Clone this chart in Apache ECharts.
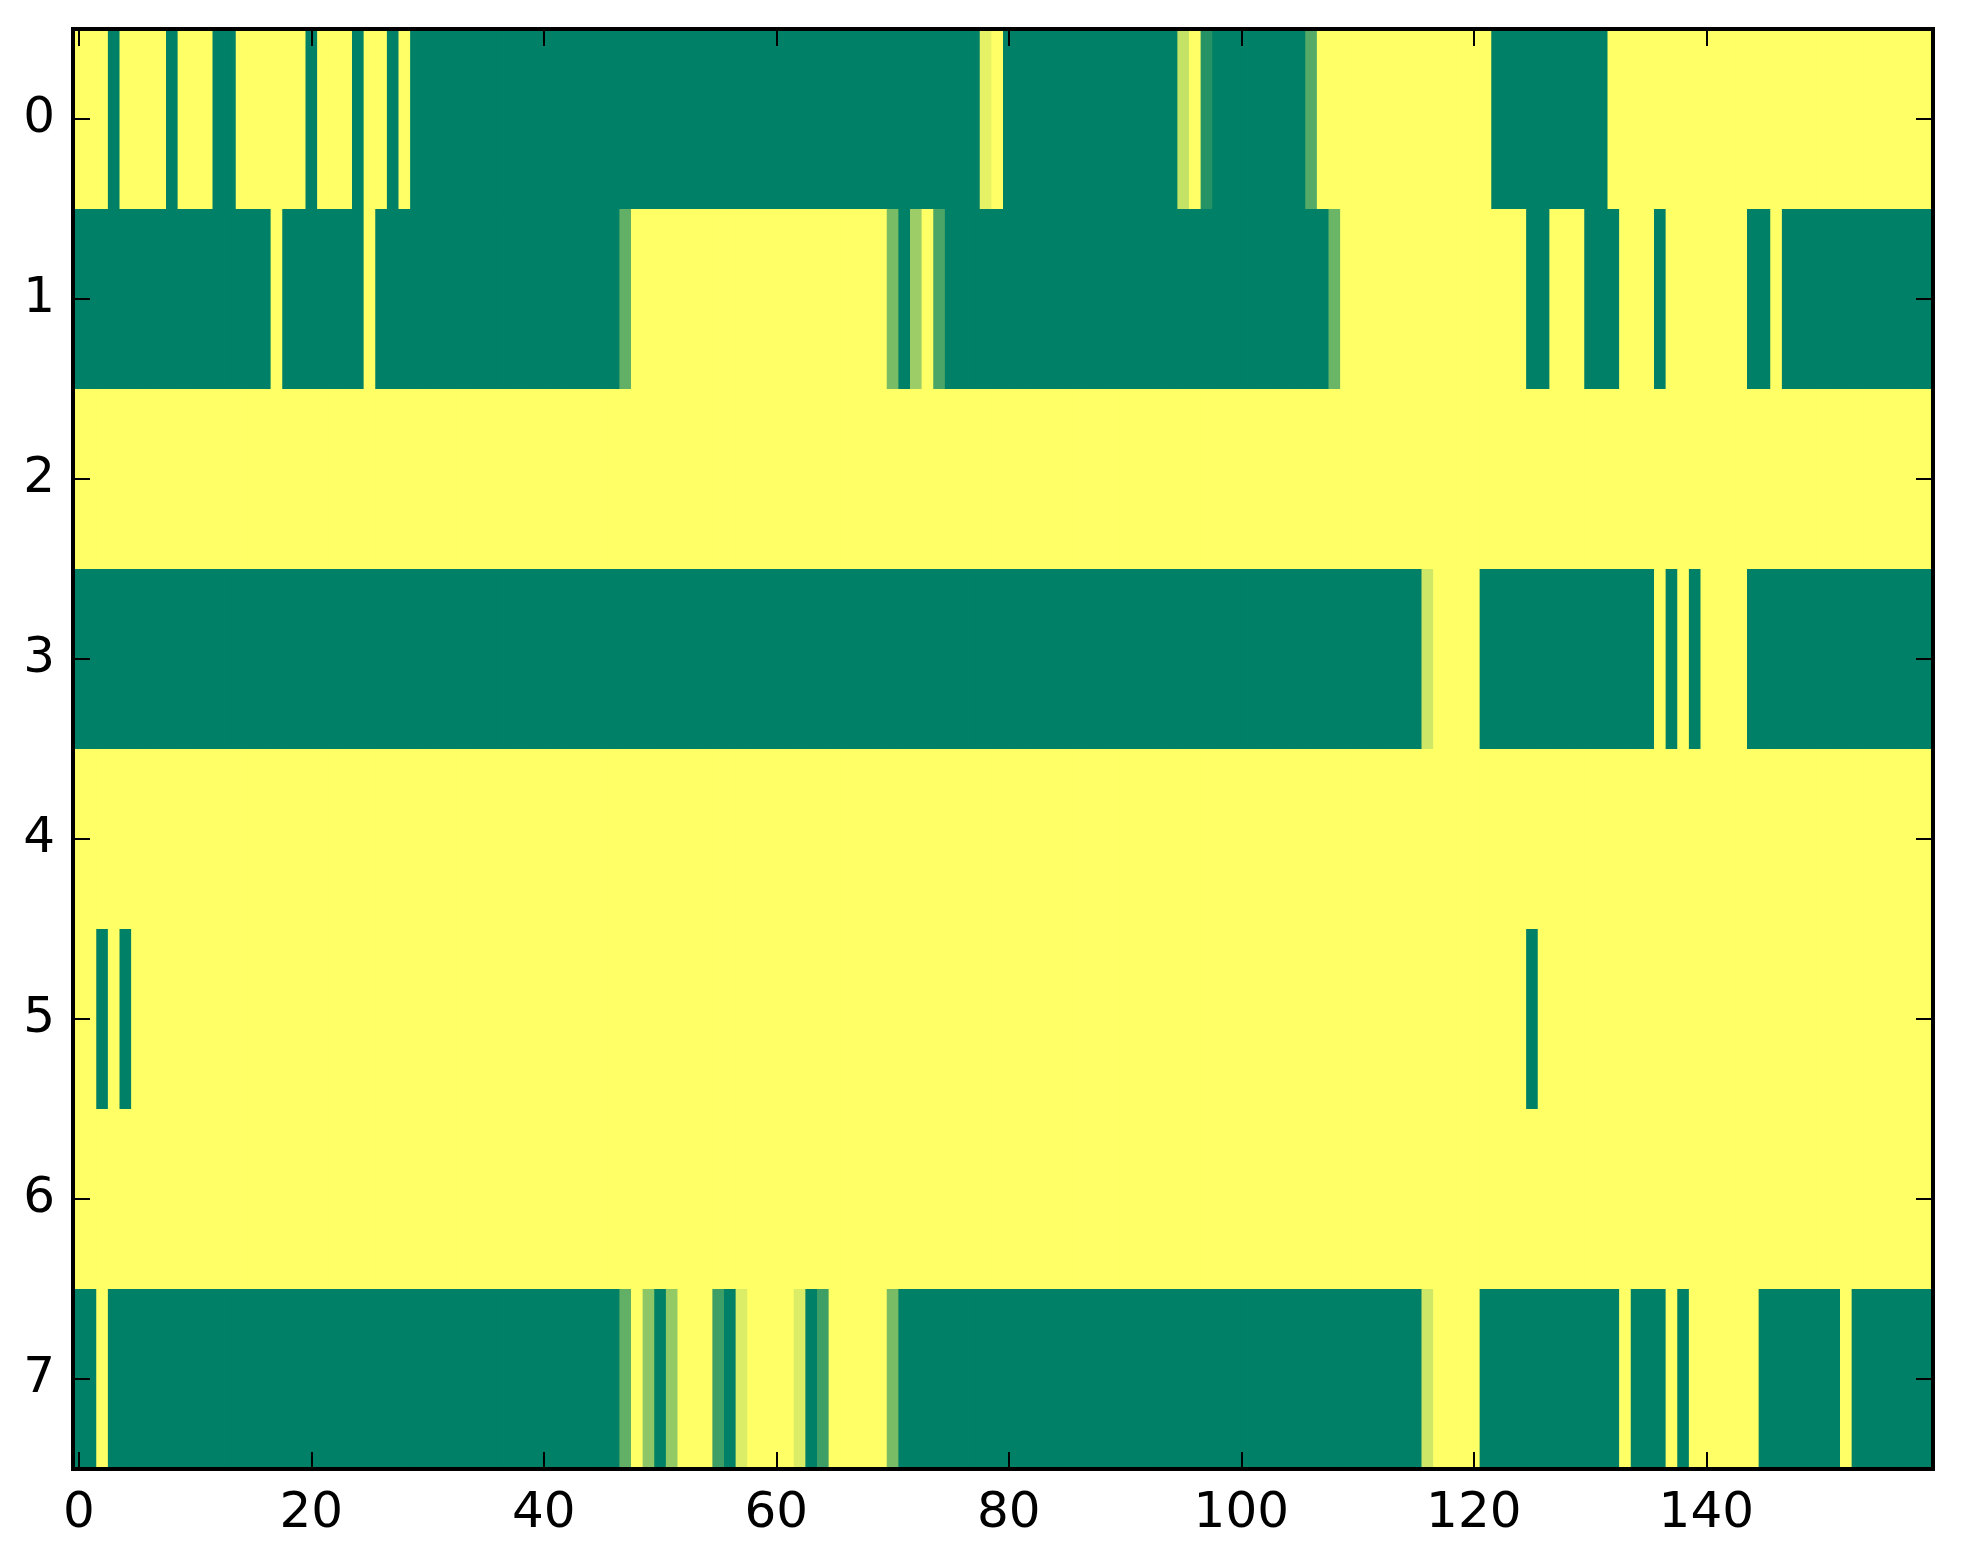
<!DOCTYPE html>
<html>
<head>
<meta charset="utf-8">
<script src="https://cdn.jsdelivr.net/npm/echarts@6/dist/echarts.min.js"></script>
<style>
html,body{margin:0;padding:0;background:#fff;}
#chart{width:1963px;height:1564px;}
</style>
</head>
<body>
<div id="chart"></div>
<script>
// Column indices 0..159 and row labels 0..7
const columns = Array.from({length: 160}, (_, i) => String(i));
const rows = ['0', '1', '2', '3', '4', '5', '6', '7'];

// Values per row (0 = green, 1 = yellow), read column by column
const row0 = [1,1,1,0,1,1,1,1,0,1, 1,1,0,0,1,1,1,1,1,1, 0,1,1,1,0,1,1,0,1,0,
  0,0,0,0,0,0,0,0,0,0, 0,0,0,0,0,0,0,0,0,0, 0,0,0,0,0,0,0,0,0,0,
  0,0,0,0,0,0,0,0,0,0, 0,0,0,0,0,0,0,0,0.9,1, 0,0,0,0,0,0,0,0,0,0,
  0,0,0,0,0,0.77,1,0.15,0,0, 0,0,0,0,0,0,0.33,1,1,1, 1,1,1,1,1,1,1,1,1,1,
  1,1,0,0,0,0,0,0,0,0, 0,0,1,1,1,1,1,1,1,1, 1,1,1,1,1,1,1,1,1,1,
  1,1,1,1,1,1,1,1,1,1];
const row1 = [0,0,0,0,0,0,0,0,0,0, 0,0,0,0,0,0,0,1,0,0, 0,0,0,0,0,1,0,0,0,0,
  0,0,0,0,0,0,0,0,0,0, 0,0,0,0,0,0,0,0.38,1,1, 1,1,1,1,1,1,1,1,1,1,
  1,1,1,1,1,1,1,1,1,1, 0.47,0,0.61,1,0.29,0,0,0,0,0, 0,0,0,0,0,0,0,0,0,0,
  0,0,0,0,0,0,0,0,0,0, 0,0,0,0,0,0,0,0,0.42,1, 1,1,1,1,1,1,1,1,1,1,
  1,1,1,1,1,0,0,1,1,1, 0,0,0,1,1,1,0,1,1,1, 1,1,1,1,0,0,1,0,0,0,
  0,0,0,0,0,0,0,0,0,0];
const row2 = [1,1,1,1,1,1,1,1,1,1, 1,1,1,1,1,1,1,1,1,1, 1,1,1,1,1,1,1,1,1,1,
  1,1,1,1,1,1,1,1,1,1, 1,1,1,1,1,1,1,1,1,1, 1,1,1,1,1,1,1,1,1,1,
  1,1,1,1,1,1,1,1,1,1, 1,1,1,1,1,1,1,1,1,1, 1,1,1,1,1,1,1,1,1,1,
  1,1,1,1,1,1,1,1,1,1, 1,1,1,1,1,1,1,1,1,1, 1,1,1,1,1,1,1,1,1,1,
  1,1,1,1,1,1,1,1,1,1, 1,1,1,1,1,1,1,1,1,1, 1,1,1,1,1,1,1,1,1,1,
  1,1,1,1,1,1,1,1,1,1];
const row3 = [0,0,0,0,0,0,0,0,0,0, 0,0,0,0,0,0,0,0,0,0, 0,0,0,0,0,0,0,0,0,0,
  0,0,0,0,0,0,0,0,0,0, 0,0,0,0,0,0,0,0,0,0, 0,0,0,0,0,0,0,0,0,0,
  0,0,0,0,0,0,0,0,0,0, 0,0,0,0,0,0,0,0,0,0, 0,0,0,0,0,0,0,0,0,0,
  0,0,0,0,0,0,0,0,0,0, 0,0,0,0,0,0,0,0,0,0, 0,0,0,0,0,0,0.81,1,1,1,
  1,0,0,0,0,0,0,0,0,0, 0,0,0,0,0,0,1,0,1,0, 1,1,1,1,0,0,0,0,0,0,
  0,0,0,0,0,0,0,0,0,0];
const row4 = [1,1,1,1,1,1,1,1,1,1, 1,1,1,1,1,1,1,1,1,1, 1,1,1,1,1,1,1,1,1,1,
  1,1,1,1,1,1,1,1,1,1, 1,1,1,1,1,1,1,1,1,1, 1,1,1,1,1,1,1,1,1,1,
  1,1,1,1,1,1,1,1,1,1, 1,1,1,1,1,1,1,1,1,1, 1,1,1,1,1,1,1,1,1,1,
  1,1,1,1,1,1,1,1,1,1, 1,1,1,1,1,1,1,1,1,1, 1,1,1,1,1,1,1,1,1,1,
  1,1,1,1,1,1,1,1,1,1, 1,1,1,1,1,1,1,1,1,1, 1,1,1,1,1,1,1,1,1,1,
  1,1,1,1,1,1,1,1,1,1];
const row5 = [1,1,0,1,0,1,1,1,1,1, 1,1,1,1,1,1,1,1,1,1, 1,1,1,1,1,1,1,1,1,1,
  1,1,1,1,1,1,1,1,1,1, 1,1,1,1,1,1,1,1,1,1, 1,1,1,1,1,1,1,1,1,1,
  1,1,1,1,1,1,1,1,1,1, 1,1,1,1,1,1,1,1,1,1, 1,1,1,1,1,1,1,1,1,1,
  1,1,1,1,1,1,1,1,1,1, 1,1,1,1,1,1,1,1,1,1, 1,1,1,1,1,1,1,1,1,1,
  1,1,1,1,1,0,1,1,1,1, 1,1,1,1,1,1,1,1,1,1, 1,1,1,1,1,1,1,1,1,1,
  1,1,1,1,1,1,1,1,1,1];
const row6 = [1,1,1,1,1,1,1,1,1,1, 1,1,1,1,1,1,1,1,1,1, 1,1,1,1,1,1,1,1,1,1,
  1,1,1,1,1,1,1,1,1,1, 1,1,1,1,1,1,1,1,1,1, 1,1,1,1,1,1,1,1,1,1,
  1,1,1,1,1,1,1,1,1,1, 1,1,1,1,1,1,1,1,1,1, 1,1,1,1,1,1,1,1,1,1,
  1,1,1,1,1,1,1,1,1,1, 1,1,1,1,1,1,1,1,1,1, 1,1,1,1,1,1,1,1,1,1,
  1,1,1,1,1,1,1,1,1,1, 1,1,1,1,1,1,1,1,1,1, 1,1,1,1,1,1,1,1,1,1,
  1,1,1,1,1,1,1,1,1,1];
const row7 = [0,0,1,0,0,0,0,0,0,0, 0,0,0,0,0,0,0,0,0,0, 0,0,0,0,0,0,0,0,0,0,
  0,0,0,0,0,0,0,0,0,0, 0,0,0,0,0,0,0,0.38,1,0.55, 0,0.58,1,1,1,0.24,0,0.86,1,1,
  1,1,0.86,0,0.24,1,1,1,1,1, 0.47,0,0,0,0,0,0,0,0,0, 0,0,0,0,0,0,0,0,0,0,
  0,0,0,0,0,0,0,0,0,0, 0,0,0,0,0,0,0,0,0,0, 0,0,0,0,0,0,0.81,1,1,1,
  1,0,0,0,0,0,0,0,0,0, 0,0,0,1,0,0,0,1,0,1, 1,1,1,1,1,0,0,0,0,0,
  0,0,1,0,0,0,0,0,0,0];
const matrix = [row0, row1, row2, row3, row4, row5, row6, row7];

const cells = [];
matrix.forEach((r, yi) => r.forEach((v, xi) => cells.push([xi, yi, v])));

const font = 'DejaVu Sans';
const lineStyle = {color: '#000', width: 4, cap: 'square'};
const tickStyle = {color: '#000', width: 2};

function xAx(pos, showLabel) {
  return {
    type: 'category', data: columns, position: pos, z: 10,
    axisLine: {show: true, onZero: false, lineStyle: lineStyle},
    axisTick: {show: true, inside: true, length: 17, interval: 19, alignWithLabel: true, lineStyle: tickStyle},
    axisLabel: {show: showLabel, interval: 19, fontSize: 50, fontFamily: font, color: '#000', margin: 20},
    splitLine: {show: false}
  };
}
function yAx(pos, showLabel) {
  return {
    type: 'category', data: rows, position: pos, inverse: true, z: 10,
    axisLine: {show: true, onZero: false, lineStyle: lineStyle},
    axisTick: {show: true, inside: true, length: 17, interval: 0, alignWithLabel: true, lineStyle: tickStyle},
    axisLabel: {show: showLabel, fontSize: 50, fontFamily: font, color: '#000', margin: 18},
    splitLine: {show: false}
  };
}

const chart = echarts.init(document.getElementById('chart'), null, {renderer: 'canvas'});
chart.setOption({
  animation: false,
  backgroundColor: '#fff',
  grid: {left: 73, top: 29, right: 30, bottom: 95, containLabel: false},
  xAxis: [xAx('bottom', true), xAx('top', false)],
  yAxis: [yAx('left', true), yAx('right', false)],
  visualMap: {
    show: false, type: 'continuous', min: 0, max: 1, dimension: 2, seriesIndex: 0,
    inRange: {color: ['#008066', '#ffff66']}
  },
  series: [{
    type: 'custom', xAxisIndex: 0, yAxisIndex: 0, data: cells,
    encode: {x: 0, y: 1},
    renderItem: function (params, api) {
      const c = api.coord([api.value(0), api.value(1)]);
      const s = api.size([1, 1]);
      return {
        type: 'rect',
        shape: {x: c[0] - s[0] / 2, y: c[1] - s[1] / 2, width: s[0] + 0.8, height: s[1] + 0.8},
        style: {fill: api.visual('color'), stroke: null}
      };
    },
    silent: true
  }]
});
</script>
</body>
</html>
